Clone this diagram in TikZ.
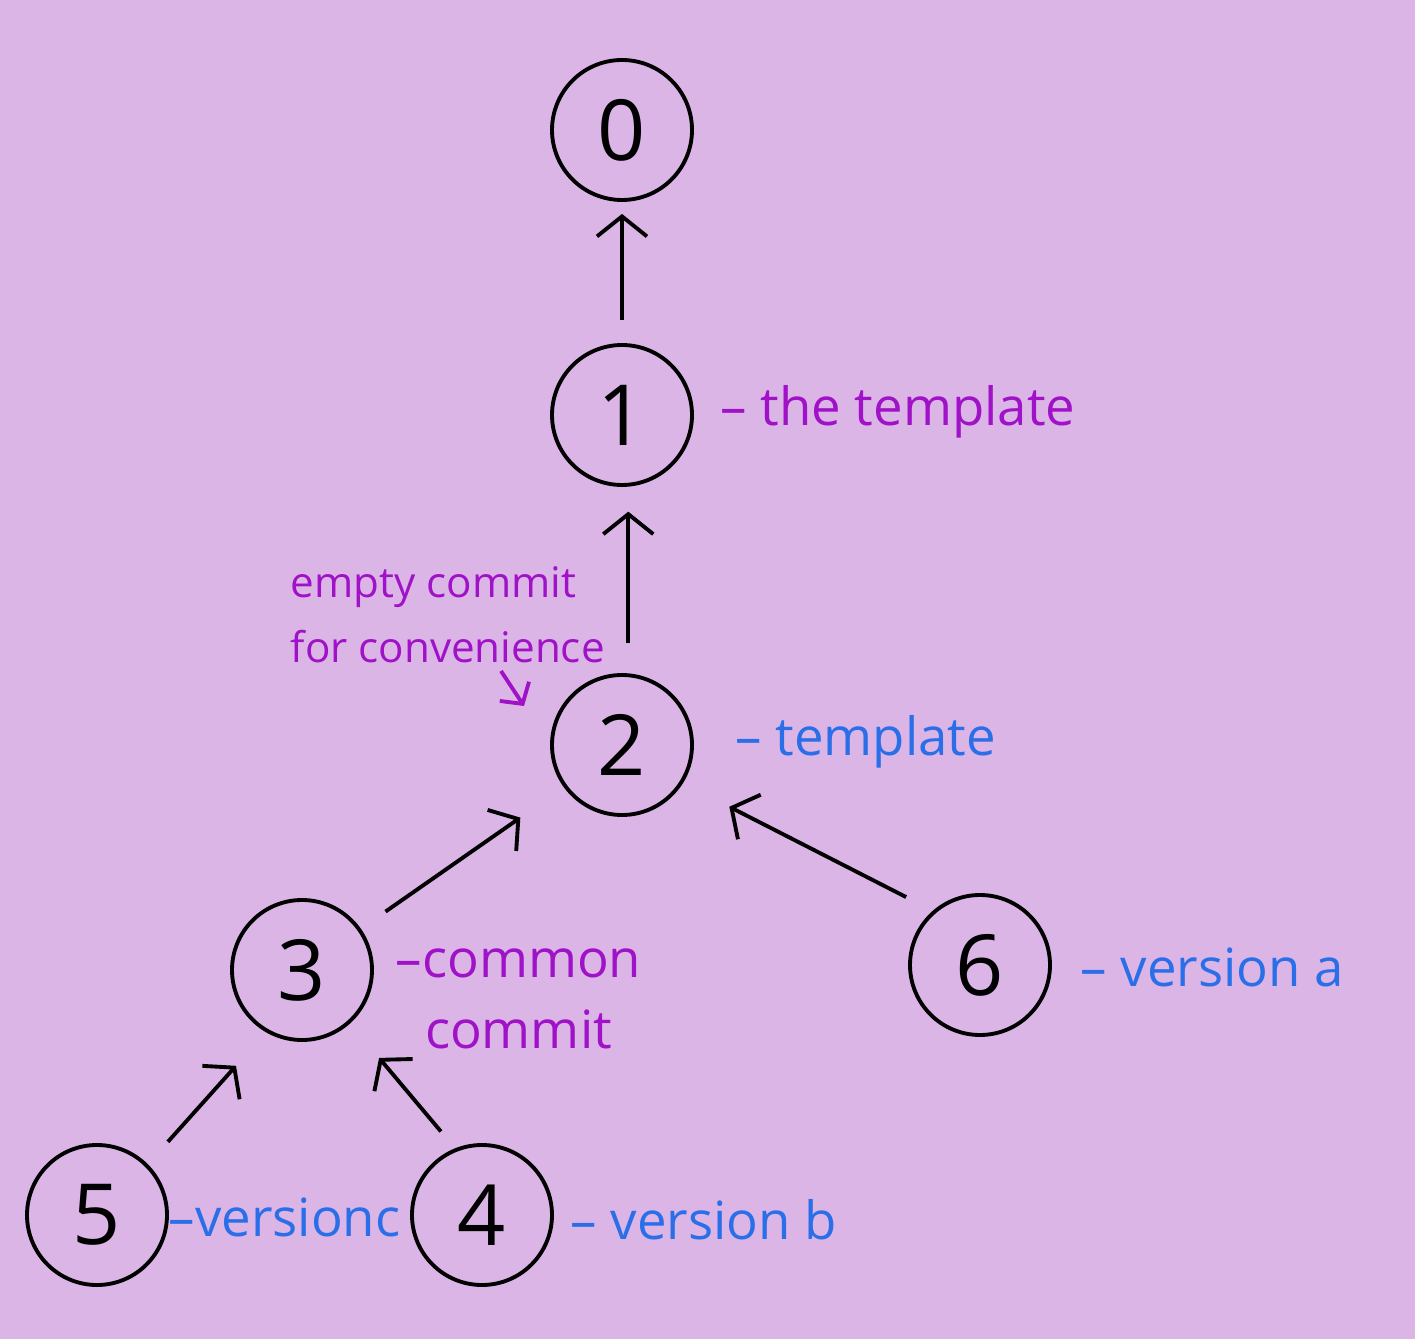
\documentclass[tikz,border=0pt]{standalone}
\usepackage{fontspec}
\setmainfont{Open Sans}
\usetikzlibrary{arrows.meta}
\definecolor{bgLila}{HTML}{DCB5E7}
\definecolor{inkPurple}{HTML}{A012C8}
\definecolor{inkBlue}{HTML}{2A6FE8}
\begin{document}
\begin{tikzpicture}[
  cnode/.style={circle, draw, minimum size=14mm, inner sep=0pt, line width=1.1pt, font=\fontsize{24}{28}\selectfont},
  edge/.style={line width=1.1pt, -{Straight Barb[length=2mm, width=5mm, line width=1.1pt]}},
  plabel/.style={anchor=west, inner sep=0pt, text=inkPurple, font=\fontsize{15}{20}\selectfont},
  blabel/.style={anchor=west, inner sep=0pt, text=inkBlue, font=\fontsize{15}{20}\selectfont}
]
  \fill[bgLila] (0,0) rectangle (14.15,13.39);
  \useasboundingbox (0,0) rectangle (14.15,13.39);

  \node[cnode] (0) at (6.22, 12.09) {0};
  \node[cnode] (1) at (6.22, 9.24) {1};
  \node[cnode] (2) at (6.22, 5.94) {2};
  \node[cnode] (3) at (3.02, 3.69) {3};
  \node[cnode] (6) at (9.80, 3.74) {6};
  \node[cnode] (5) at (0.97, 1.24) {5};
  \node[cnode] (4) at (4.82, 1.24) {4};

  \draw[edge, shorten <=2.3mm, shorten >=1.2mm] (1.90) -- (0.270);
  \draw[edge, shorten <=3mm, shorten >=2.5mm] (2.85) -- (1.275);
  \draw[edge, shorten <=3mm, shorten >=5.3mm] (3.35) -- (2.216);
  \draw[edge, shorten <=3mm, shorten >=5.2mm] (6.131) -- (2.-32);
  \draw[edge, shorten <=3mm, shorten >=4.5mm] (5.45) -- (3.240);
  \draw[edge, shorten <=2.2mm, shorten >=4.5mm] (4.112) -- (3.-48);

  \node[plabel] (lbl1) at (7.20, 9.27) {– the template};
  \node[blabel] (lbl2) at (7.35, 5.97) {– template};
  \node[plabel, align=center] (lbl3) at (3.95, 3.40) {–common\\commit};
  \node[blabel] (lbl6) at (10.80, 3.72) {– version a};
  \node[blabel] (lbl5) at (1.68, 1.22) {–versionc};
  \node[blabel] (lbl4) at (5.70, 1.19) {– version b};

  \node[plabel, align=left, font=\fontsize{12}{18.5}\selectfont] (note) at (2.90, 7.24) {empty commit\\for convenience};
  \coordinate (noteTip) at (5.24, 6.33);
  \draw[inkPurple, line width=1.1pt, -{Straight Barb[length=1.5mm, width=3.5mm, line width=1.1pt]}] (5.01, 6.68) -- (noteTip);
\end{tikzpicture}
\end{document}
